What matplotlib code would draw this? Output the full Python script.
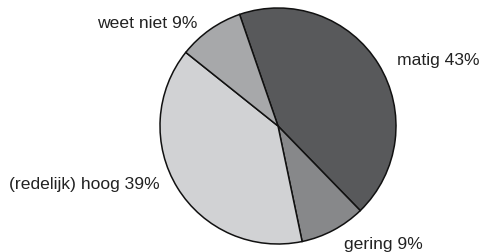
import matplotlib.pyplot as plt

# data
labels = ['matig', 'gering', '(redelijk) hoog', 'weet niet']
values = [43, 9, 39, 9]
colors = ['#58595b', '#87888a', '#d1d2d4', '#a7a8aa']

# label anchor positions in pixels (x, baseline y from top) and alignment
label_pos = [(397, 65, 'left'), (344, 249, 'left'), (160, 189, 'right'), (197, 28, 'right')]

W, H = 480, 253
fig = plt.figure(figsize=(W / 100, H / 100), dpi=100)
ax = fig.add_axes([0, 0, 1, 1])
ax.set_xlim(0, W)
ax.set_ylim(0, H)
ax.set_aspect('equal')
ax.axis('off')

ax.pie(values, colors=colors, startangle=109, counterclock=False,
       radius=118, center=(278, H - 127),
       wedgeprops=dict(edgecolor='#111111', linewidth=1.1))
ax.set_xlim(0, W)
ax.set_ylim(0, H)

for lab, v, (x, y, ha) in zip(labels, values, label_pos):
    ax.text(x, H - y, f'{lab} {v}%', ha=ha, va='baseline',
            fontsize=12.6, family='Liberation Sans', color='#222222')

fig.savefig('out.png', dpi=100)
